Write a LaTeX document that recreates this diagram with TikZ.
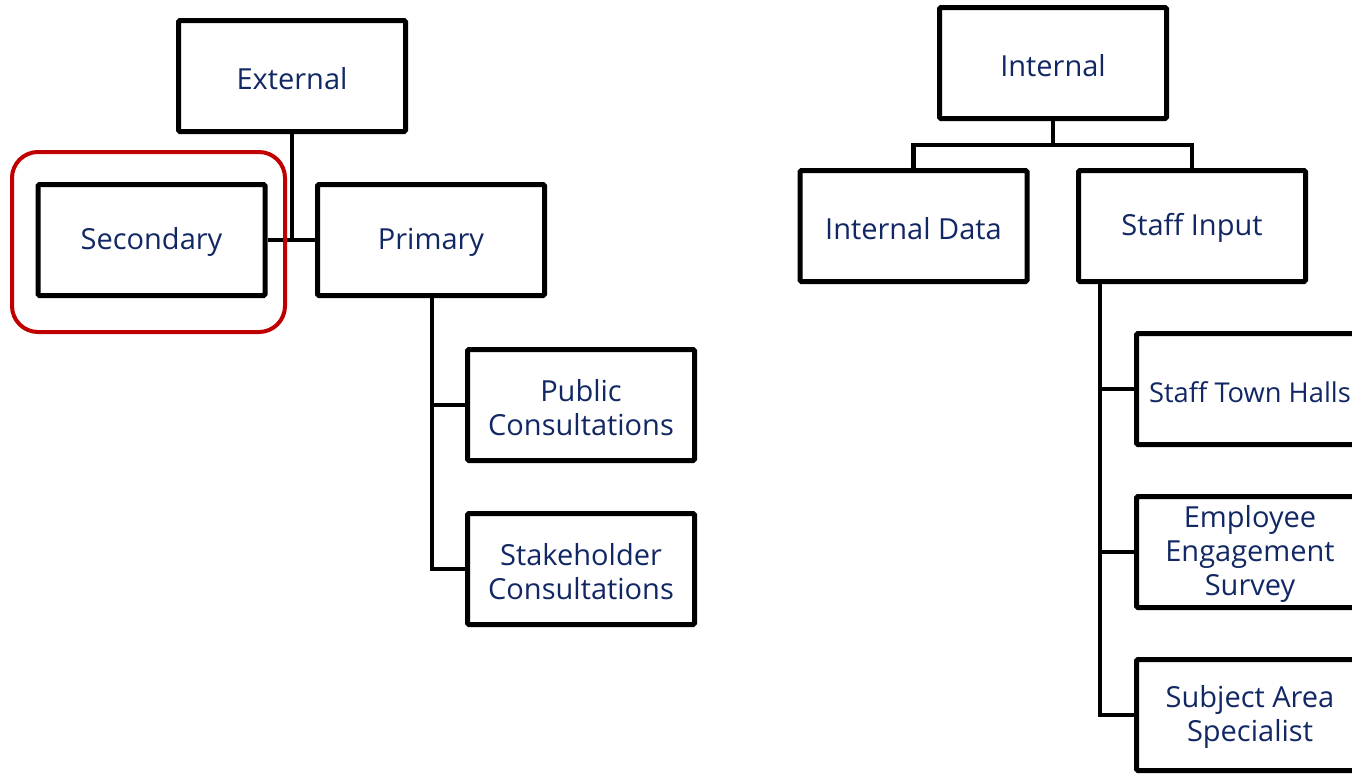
\documentclass[tikz,border=0pt]{standalone}
\usepackage{fontspec}
\setmainfont{Open Sans}
\definecolor{navy}{RGB}{18,40,100}
\definecolor{redline}{RGB}{192,0,0}
\newcommand\lnst{\rule[-0.5pt]{0pt}{27pt}}
\begin{document}
\begin{tikzpicture}[x=1pt,y=-1pt,
  orgbox/.style={draw=black,line width=5pt,rounded corners=1.5pt,fill=white,minimum width=227pt,minimum height=111pt,inner sep=0pt,align=center,text=navy,font=\fontsize{29}{34}\selectfont},
  link/.style={draw=black,line width=4.6pt}]
\useasboundingbox (0,0) rectangle (1352,774);
% left tree
\node[orgbox] (ext) at (292,76) {\lnst External};
\node[orgbox] (sec) at (151.5,240) {\lnst Secondary};
\node[orgbox] (pri) at (431,240) {\lnst Primary};
\node[orgbox] (pub) at (581,405) {\lnst Public\\\lnst Consultations};
\node[orgbox] (stk) at (581,569) {\lnst Stakeholder\\\lnst Consultations};
\coordinate (j1) at (ext.south |- sec.east);
\draw[link] (ext.south) -- (j1);
\draw[link] (sec.east) -- (pri.west);
\draw[link] (pri.south -| 432,0) |- (stk.west);
\draw[link] (pub.west) -- (pub.west -| 432,0);
\draw[redline,line width=4pt,rounded corners=26pt] (12,152) rectangle (285,332);
% right tree
\node[orgbox] (int) at (1053,63) {\lnst Internal};
\node[orgbox] (idat) at (913.5,226) {\lnst Internal Data};
\node[orgbox] (stf) at (1192,226) {\lnst Staff Input};
\node[orgbox,font=\fontsize{27.3}{34}\selectfont] (sth) at (1250,389) {\lnst Staff Town Halls};
\node[orgbox] (ees) at (1250,552) {\lnst Employee\\\lnst Engagement\\\lnst Survey};
\node[orgbox] (sas) at (1250,715) {\lnst Subject Area\\\lnst Specialist};
\coordinate (j2) at (1053,145);
\draw[link] (int.south) -- (j2);
\draw[link] (idat.north) |- (j2) -| (stf.north);
\draw[link] (stf.south -| 1100,0) |- (sas.west);
\draw[link] (sth.west) -- (sth.west -| 1100,0);
\draw[link] (ees.west) -- (ees.west -| 1100,0);
\end{tikzpicture}
\end{document}
